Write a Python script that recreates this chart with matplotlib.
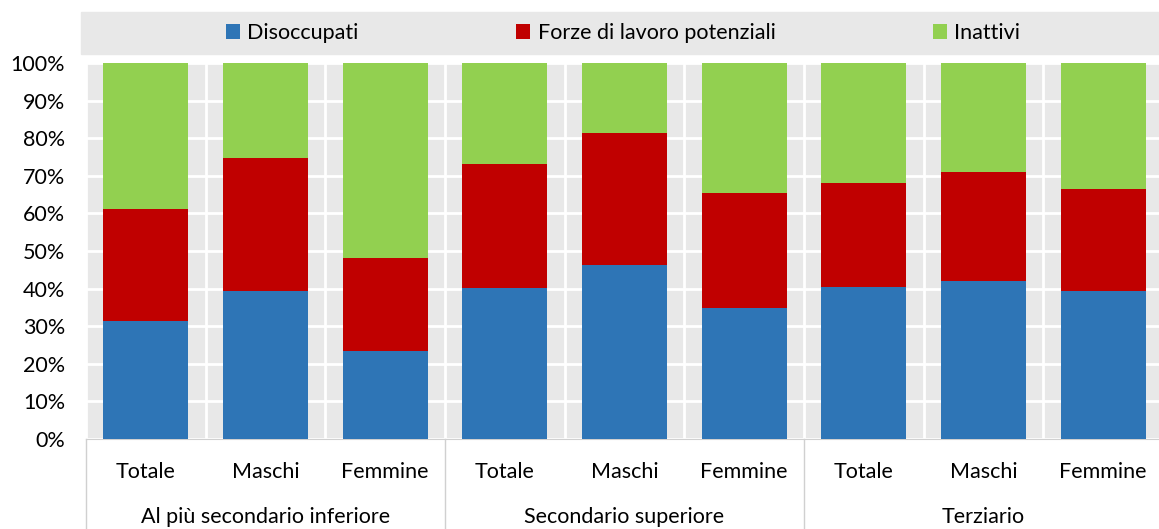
import numpy as np
import matplotlib.pyplot as plt
from matplotlib.patches import Rectangle

plt.rcParams['font.family'] = ['Lato', 'DejaVu Sans']

groups = ['Al più secondario inferiore', 'Secondario superiore', 'Terziario']
sub = ['Totale', 'Maschi', 'Femmine']
series = ['Disoccupati', 'Forze di lavoro potenziali', 'Inattivi']
disoccupati = [31.4, 39.4, 23.4, 40.2, 46.3, 34.8, 40.4, 42.0, 39.4]
forze = [29.8, 35.3, 24.7, 32.9, 35.1, 30.6, 27.7, 29.0, 27.1]
inattivi = [100 - d - f for d, f in zip(disoccupati, forze)]
colors = ['#2E75B6', '#C00000', '#92D050']
fs = 15.5

fig = plt.figure(figsize=(11.59, 5.29), dpi=100)
ax = fig.add_axes([86/1159, 90/529, 1077/1159, 376/529])
ax.set_facecolor('#E8E8E8')

x = np.arange(9)
bottom = np.zeros(9)
for name, vals, c in zip(series, [disoccupati, forze, inattivi], colors):
    ax.bar(x, vals, 0.71, bottom=bottom, color=c, label=name, zorder=3)
    bottom += np.array(vals)

ax.set_xlim(-0.5, 8.5)
ax.set_ylim(0, 100)
ax.set_yticks(range(0, 101, 10))
ax.set_yticklabels([f'{v}%' for v in range(0, 101, 10)], fontsize=fs)
ax.set_xticks(x)
ax.set_xticklabels(sub * 3, fontsize=fs)
ax.set_xticks(np.arange(-0.5, 9, 1), minor=True)
ax.tick_params(axis='both', which='both', length=0)
ax.tick_params(axis='y', pad=15)
ax.tick_params(axis='x', pad=16.5)
ax.set_axisbelow(True)
ax.yaxis.grid(True, color='white', lw=2)
ax.xaxis.grid(True, which='minor', color='white', lw=2)
for s in ['top', 'right', 'left']:
    ax.spines[s].set_visible(False)
ax.spines['bottom'].set_color('#D0D0D0')

# group labels and separators
for i, g in enumerate(groups):
    ax.text(i*3 + 1, -0.208, g, transform=ax.get_xaxis_transform(),
            ha='center', va='center', fontsize=fs)
for xs in [-0.5, 2.5, 5.5, 8.5]:
    ax.plot([xs, xs], [0, -0.24], transform=ax.get_xaxis_transform(),
            color='#D0D0D0', lw=1, clip_on=False)

# legend band
fig.patches.append(Rectangle((81/1159, (529-54)/529), 1078/1159, 42/529,
                             transform=fig.transFigure, color='#E8E8E8', zorder=0))
fig.legend(loc='center', bbox_to_anchor=(623/1159, (529-33)/529), ncol=3,
           frameon=False, fontsize=fs, handlelength=0.65, handleheight=0.65,
           handletextpad=0.35, columnspacing=7.3)

fig.savefig('out.png', dpi=100)
